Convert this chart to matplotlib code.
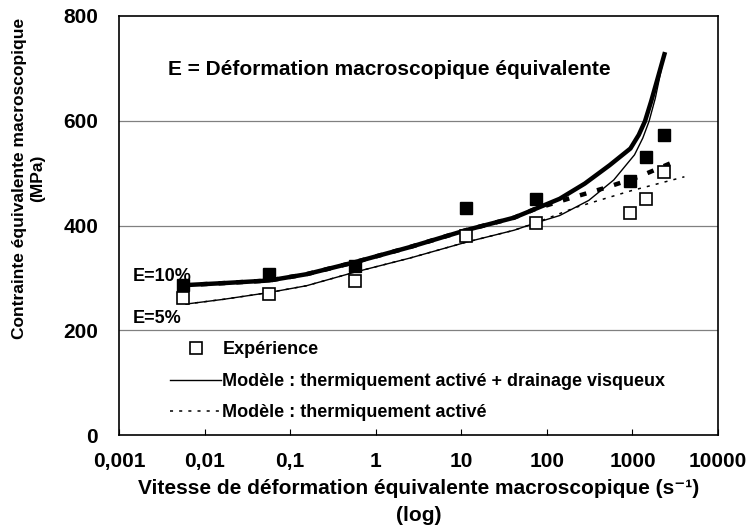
import numpy as np
import matplotlib.pyplot as plt
from matplotlib.ticker import FixedLocator, FixedFormatter

plt.rcParams['font.family'] = ['Liberation Sans', 'DejaVu Sans']
plt.rcParams['font.weight'] = 'bold'

# experimental points (strain rate s^-1, stress MPa)
x_exp = [0.0056, 0.056, 0.57, 11.3, 74, 925, 1445, 2310]
y_exp_10 = [286, 307, 323, 433, 451, 485, 531, 573]
y_exp_5 = [261, 269, 295, 380, 405, 423, 451, 503]

# model: thermally activated + viscous drag
x_visc_10 = [0.0056, 0.0165, 0.0565, 0.155, 0.571, 2.53, 11.3, 41.4, 74, 141, 277, 540, 946, 1185, 1400, 1653, 1955, 2364]
y_visc_10 = [286, 290, 295, 307, 330, 359, 391, 415, 432, 451, 480, 515, 547, 573, 599, 637, 679, 727]
x_visc_5 = [0.00605, 0.0165, 0.0565, 0.155, 0.571, 2.53, 11.3, 41.4, 74, 141, 309, 605, 1057, 1321, 1563, 1849, 2364]
y_visc_5 = [250, 259, 272, 285, 311, 338, 368, 391, 405, 419, 448, 487, 535, 567, 599, 643, 727]

# model: thermally activated only
x_th_10 = [0.0056, 0.0165, 0.0565, 0.155, 0.571, 2.53, 11.3, 41.4, 74, 177, 483, 1183, 2891]
y_th_10 = [286, 290, 295, 307, 330, 359, 391, 415, 432, 451, 472, 493, 520]
x_th_5 = [0.00605, 0.0165, 0.0565, 0.155, 0.571, 2.53, 11.3, 41.4, 74, 221, 946, 4045]
y_th_5 = [250, 259, 272, 285, 311, 338, 368, 391, 405, 435, 466, 493]

xticks = [0.001, 0.01, 0.1, 1, 10, 100, 1000, 10000]
xticklabels = ['0,001', '0,01', '0,1', '1', '10', '100', '1000', '10000']
yticks = [0, 200, 400, 600, 800]

fig = plt.figure(figsize=(7.51, 5.28), dpi=100)
ax = fig.add_axes([0.1585, 0.1761, 0.7976, 0.7936])

for y in [200, 400, 600]:
    ax.axhline(y, color='#808080', lw=0.9, zorder=0)

ax.plot(x_th_10, y_th_10, color='black', lw=3.2, ls=(0, (1.5, 2.5)), zorder=2)
ax.plot(x_th_5, y_th_5, color='black', lw=1.1, ls=(0, (2, 4)), zorder=2,
        label='Modèle : thermiquement activé')
ax.plot(x_visc_10, y_visc_10, color='black', lw=3.2, zorder=3)
ax.plot(x_visc_5, y_visc_5, color='black', lw=1.0, zorder=3,
        label='Modèle : thermiquement activé + drainage visqueux')
ax.plot(x_exp, y_exp_10, 's', color='black', ms=8.5, zorder=4)
ax.plot(x_exp, y_exp_5, 's', mfc='white', mec='black', mew=1.2, ms=8.5, zorder=4,
        label='Expérience')

ax.set_xscale('log')
ax.set_xlim(0.001, 10000)
ax.set_ylim(0, 800)
ax.xaxis.set_major_locator(FixedLocator(xticks))
ax.xaxis.set_major_formatter(FixedFormatter(xticklabels))
ax.xaxis.set_minor_locator(FixedLocator([]))
ax.set_yticks(yticks)
ax.tick_params(axis='x', direction='in', length=4, pad=12, labelsize=15)
ax.tick_params(axis='y', length=0, pad=15, labelsize=15)
for s in ax.spines.values():
    s.set_linewidth(1.2)

ax.text(0.00374, 698, 'E = Déformation macroscopique équivalente',
        fontsize=15, fontweight='bold', va='center', ha='left')
ax.text(0.00146, 302, 'E=10%', fontsize=13, fontweight='bold', va='center')
ax.text(0.00146, 222, 'E=5%', fontsize=13, fontweight='bold', va='center')

h, l = ax.get_legend_handles_labels()
order = [2, 1, 0]
ax.legend([h[i] for i in order], [l[i] for i in order], loc='upper left',
          bbox_to_anchor=(0.07, 0.245), frameon=False, fontsize=13,
          handlelength=2.85, handletextpad=0.05, labelspacing=0.8, borderpad=0)

ax.set_xlabel('Vitesse de déformation équivalente macroscopique (s⁻¹)\n(log)',
              fontsize=15, fontweight='bold', labelpad=6, linespacing=1.55)
fig.text(0.038, 0.662, 'Contrainte équivalente macroscopique\n(MPa)', rotation=90,
         fontsize=12.5, fontweight='bold', ha='center', va='center')

fig.savefig('out.png', dpi=100)
